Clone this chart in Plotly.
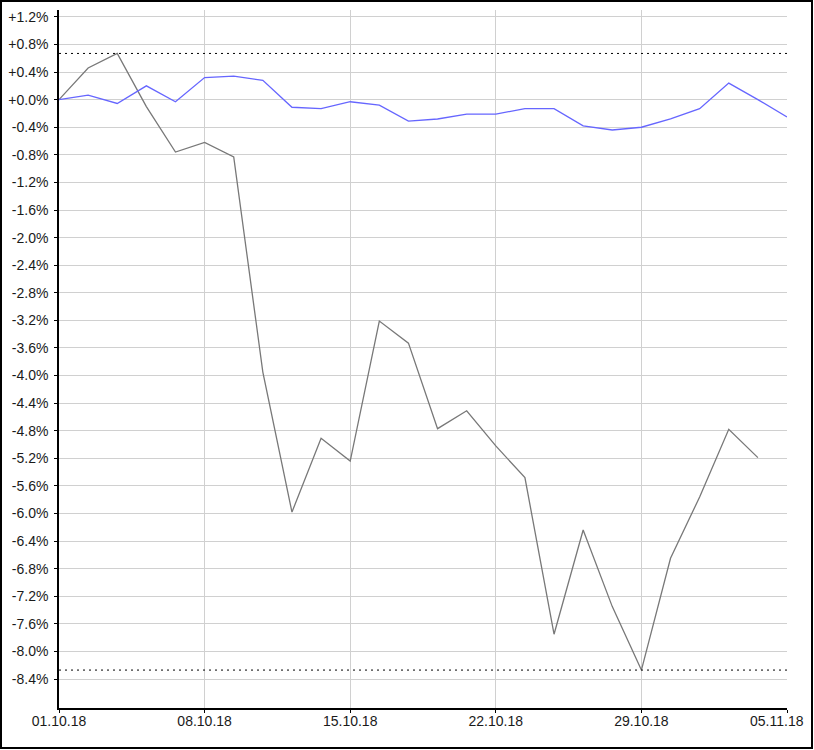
import plotly.graph_objects as go

# Trading days (categories on the x axis)
trading_days = [
    "01.10.18", "02.10.18", "03.10.18", "04.10.18", "05.10.18",
    "08.10.18", "09.10.18", "10.10.18", "11.10.18", "12.10.18",
    "15.10.18", "16.10.18", "17.10.18", "18.10.18", "19.10.18",
    "22.10.18", "23.10.18", "24.10.18", "25.10.18", "26.10.18",
    "29.10.18", "30.10.18", "31.10.18", "01.11.18", "02.11.18",
    "05.11.18",
]

# Gray series (% change), 25 values
gray_values = [
    0.00, 0.46, 0.67, -0.10, -0.76,
    -0.62, -0.83, -3.95, -5.98, -4.91,
    -5.24, -3.21, -3.53, -4.77, -4.51,
    -5.02, -5.48, -7.75, -6.24, -7.35,
    -8.27, -6.65, -5.76, -4.78, -5.19,
]

# Blue series (% change), 26 values
blue_values = [
    0.00, 0.065, -0.055, 0.20, -0.03,
    0.32, 0.34, 0.28, -0.11, -0.13,
    -0.03, -0.08, -0.31, -0.28, -0.21,
    -0.21, -0.13, -0.13, -0.38, -0.44,
    -0.40, -0.28, -0.13, 0.24, 0.00,
    -0.25,
]

# Axis ticks
x_tick_labels = ["01.10.18", "08.10.18", "15.10.18", "22.10.18", "29.10.18", "05.11.18"]
y_tick_values = [1.2, 0.8, 0.4, 0.0, -0.4, -0.8, -1.2, -1.6, -2.0, -2.4, -2.8, -3.2,
                 -3.6, -4.0, -4.4, -4.8, -5.2, -5.6, -6.0, -6.4, -6.8, -7.2, -7.6,
                 -8.0, -8.4]
y_tick_labels = ["+1.2%", "+0.8%", "+0.4%", "+0.0%", "-0.4%", "-0.8%", "-1.2%", "-1.6%",
                 "-2.0%", "-2.4%", "-2.8%", "-3.2%", "-3.6%", "-4.0%", "-4.4%", "-4.8%",
                 "-5.2%", "-5.6%", "-6.0%", "-6.4%", "-6.8%", "-7.2%", "-7.6%", "-8.0%",
                 "-8.4%"]

FONT = "Liberation Sans, Arial, sans-serif"
TEXT_COLOR = "#1a1a1a"

fig = go.Figure()

fig.add_trace(go.Scatter(
    x=trading_days[:len(gray_values)], y=gray_values, mode="lines",
    line=dict(color="#787878", width=1.3), showlegend=False, hoverinfo="skip",
))
fig.add_trace(go.Scatter(
    x=trading_days, y=blue_values, mode="lines",
    line=dict(color="#6666ff", width=1.3), showlegend=False, hoverinfo="skip",
))

# Max / min dotted reference lines of the gray series
for v in (max(gray_values), min(gray_values)):
    fig.add_shape(type="line", xref="paper", x0=0, x1=1, yref="y", y0=v, y1=v,
                  line=dict(color="black", width=1, dash="2px,4px"), layer="above")

# Outer border around the whole image
L, R, T, B = 59, 27, 10, 42
W, H = 814, 750
pw, ph = W - L - R, H - T - B
fig.add_shape(type="rect", xref="paper", yref="paper",
              x0=(1 - L) / pw, x1=(W - 2 - L) / pw,
              y0=(H - B - (H - 2)) / ph, y1=(H - B - 1) / ph,
              line=dict(color="black", width=2), fillcolor="rgba(0,0,0,0)", layer="above")

# Last x label is pulled inward so it stays inside the frame
fig.add_annotation(
    x=x_tick_labels[-1], xref="x", y=0, yref="paper",
    text=x_tick_labels[-1], showarrow=False,
    xanchor="center", yanchor="top", xshift=-10, yshift=-3,
    font=dict(family=FONT, size=14, color=TEXT_COLOR),
)

fig.update_layout(
    width=W, height=H,
    margin=dict(l=L, r=R, t=T, b=B, pad=0, autoexpand=False),
    paper_bgcolor="white", plot_bgcolor="white",
    font=dict(family=FONT, size=14, color=TEXT_COLOR),
    showlegend=False,
)
fig.update_xaxes(
    type="category", categoryorder="array", categoryarray=trading_days,
    range=[0, len(trading_days) - 1],
    tickvals=x_tick_labels, ticktext=x_tick_labels[:-1] + [""],
    showgrid=True, gridcolor="#d0d0d0", gridwidth=1,
    showline=True, linecolor="black", linewidth=1.5,
    ticks="outside", ticklen=3, tickcolor="black", zeroline=False,
    automargin=False, ticklabelstandoff=-4,
)
fig.update_yaxes(
    range=[-8.82, 1.3],
    tickvals=y_tick_values, ticktext=y_tick_labels,
    showgrid=True, gridcolor="#d0d0d0", gridwidth=1,
    showline=True, linecolor="black", linewidth=1.5,
    ticks="outside", ticklen=3, tickcolor="black", zeroline=False,
    automargin=False, ticklabelstandoff=3,
)

fig.write_html(
    "out.html",
    config={"displayModeBar": False},
    post_script="document.body.style.margin='0';document.body.style.padding='0';"
                "document.body.style.overflow='hidden';",
)
